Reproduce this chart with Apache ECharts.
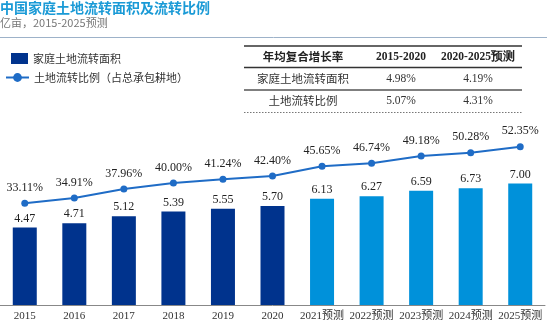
<!DOCTYPE html>
<html><head><meta charset="utf-8">
<script src="https://cdn.jsdelivr.net/npm/echarts@6/dist/echarts.min.js"></script>
<style>html,body{margin:0;padding:0;background:#fff}#c{width:547px;height:324px}</style>
</head><body><div id="c"></div>
<script>
const categories = ['2015','2016','2017','2018','2019','2020','2021预测','2022预测','2023预测','2024预测','2025预测'];
const areaValues = [4.47,4.71,5.12,5.39,5.55,5.70,6.13,6.27,6.59,6.73,7.00];
const ratioValues = [33.11,34.91,37.96,40.00,41.24,42.40,45.65,46.74,49.18,50.28,52.35];
const forecastFrom = 6;
const tableHeader = ['年均复合增长率','2015-2020','2020-2025预测'];
const tableRows = [
  ['家庭土地流转面积','4.98%','4.19%'],
  ['土地流转比例','5.07%','4.31%']
];
const titleText = '中国家庭土地流转面积及流转比例';
const subtitleText = '亿亩，2015-2025预测';
const barName = '家庭土地流转面积';
const lineName = '土地流转比例（占总承包耕地）';

const DARK = '#00338D', LIGHT = '#0091DA', LINE = '#1F6CC6';
const CJK = '"Noto Sans CJK SC", sans-serif';
const SERIF = '"Liberation Serif", "Times New Roman", serif';

const colX = [303, 401, 478];
const rowY = [57, 79, 101];
const graphics = [
  {type:'text', left:0, top:1, style:{text:titleText, font:'bold 14px '+CJK, fill:'#1A9AD6'}},
  {type:'text', left:0, top:17, style:{text:subtitleText, font:'11px '+CJK, fill:'#777'}},
  {type:'line', shape:{x1:0,y1:37.5,x2:547,y2:37.5}, style:{stroke:'#9DB2C9', lineWidth:1}},
  {type:'line', shape:{x1:244,y1:46,x2:522,y2:46}, style:{stroke:'#333', lineWidth:1.5}},
  {type:'line', shape:{x1:244,y1:67.5,x2:522,y2:67.5}, style:{stroke:'#333', lineWidth:1.5}},
  {type:'line', shape:{x1:244,y1:90,x2:522,y2:90}, style:{stroke:'#555', lineWidth:1.5}},
  {type:'line', shape:{x1:244,y1:112.5,x2:522,y2:112.5}, style:{stroke:'#777', lineWidth:1, lineDash:[1.5,1.5]}}
];
tableHeader.forEach((t,i)=>{
  graphics.push({type:'text', x:colX[i], y:rowY[0], style:{text:t, font:(i===0?'bold 11.5px '+CJK:'bold 11.5px '+SERIF), fill:'#222', textAlign:'center', textVerticalAlign:'middle'}});
});
tableRows.forEach((r,ri)=>{
  r.forEach((t,i)=>{
    graphics.push({type:'text', x:colX[i], y:rowY[ri+1], style:{text:t, font:(i===0?'11.5px '+CJK:'11.5px '+SERIF), fill:'#333', textAlign:'center', textVerticalAlign:'middle'}});
  });
});

const chart = echarts.init(document.getElementById('c'));
chart.setOption({
  animation:false,
  grid:{left:0, right:2, top:131.5, bottom:19},
  legend:[
    {left:11, top:53, padding:0, itemWidth:17, itemHeight:11, itemGap:5, data:[{name:barName, icon:'rect'}],
     textStyle:{fontFamily:CJK, fontSize:11, color:'#333'}},
    {left:5, top:72, padding:0, itemWidth:23, itemHeight:11, data:[{name:lineName}],
     textStyle:{fontFamily:CJK, fontSize:11, color:'#333'}}
  ],
  xAxis:{type:'category', data:categories,
    axisLine:{lineStyle:{color:'#888', width:1}}, axisTick:{show:false},
    axisLabel:{interval:0, margin:6, fontFamily:SERIF+', '+CJK, fontSize:11, color:'#333'}},
  yAxis:[
    {type:'value', min:0, max:10, show:false, splitLine:{show:false}},
    {type:'value', min:-1.5, max:57.5, show:false, splitLine:{show:false}}
  ],
  series:[
    {name:barName, type:'bar', barWidth:24, yAxisIndex:0, itemStyle:{color:DARK},
     data:areaValues.map((v,i)=>({value:v, itemStyle:{color: i>=forecastFrom?LIGHT:DARK}})),
     label:{show:true, position:'top', distance:3, fontFamily:SERIF, fontSize:12, color:'#222',
       formatter:p=>p.value.toFixed(2)}},
    {name:lineName, type:'line', yAxisIndex:1, data:ratioValues, symbol:'circle', symbolSize:7,
     itemStyle:{color:LINE}, lineStyle:{color:LINE, width:2},
     label:{show:true, position:'top', distance:6, fontFamily:SERIF, fontSize:12, color:'#222',
       formatter:p=>p.value.toFixed(2)+'%'}}
  ],
  graphic:graphics
});
</script></body></html>
